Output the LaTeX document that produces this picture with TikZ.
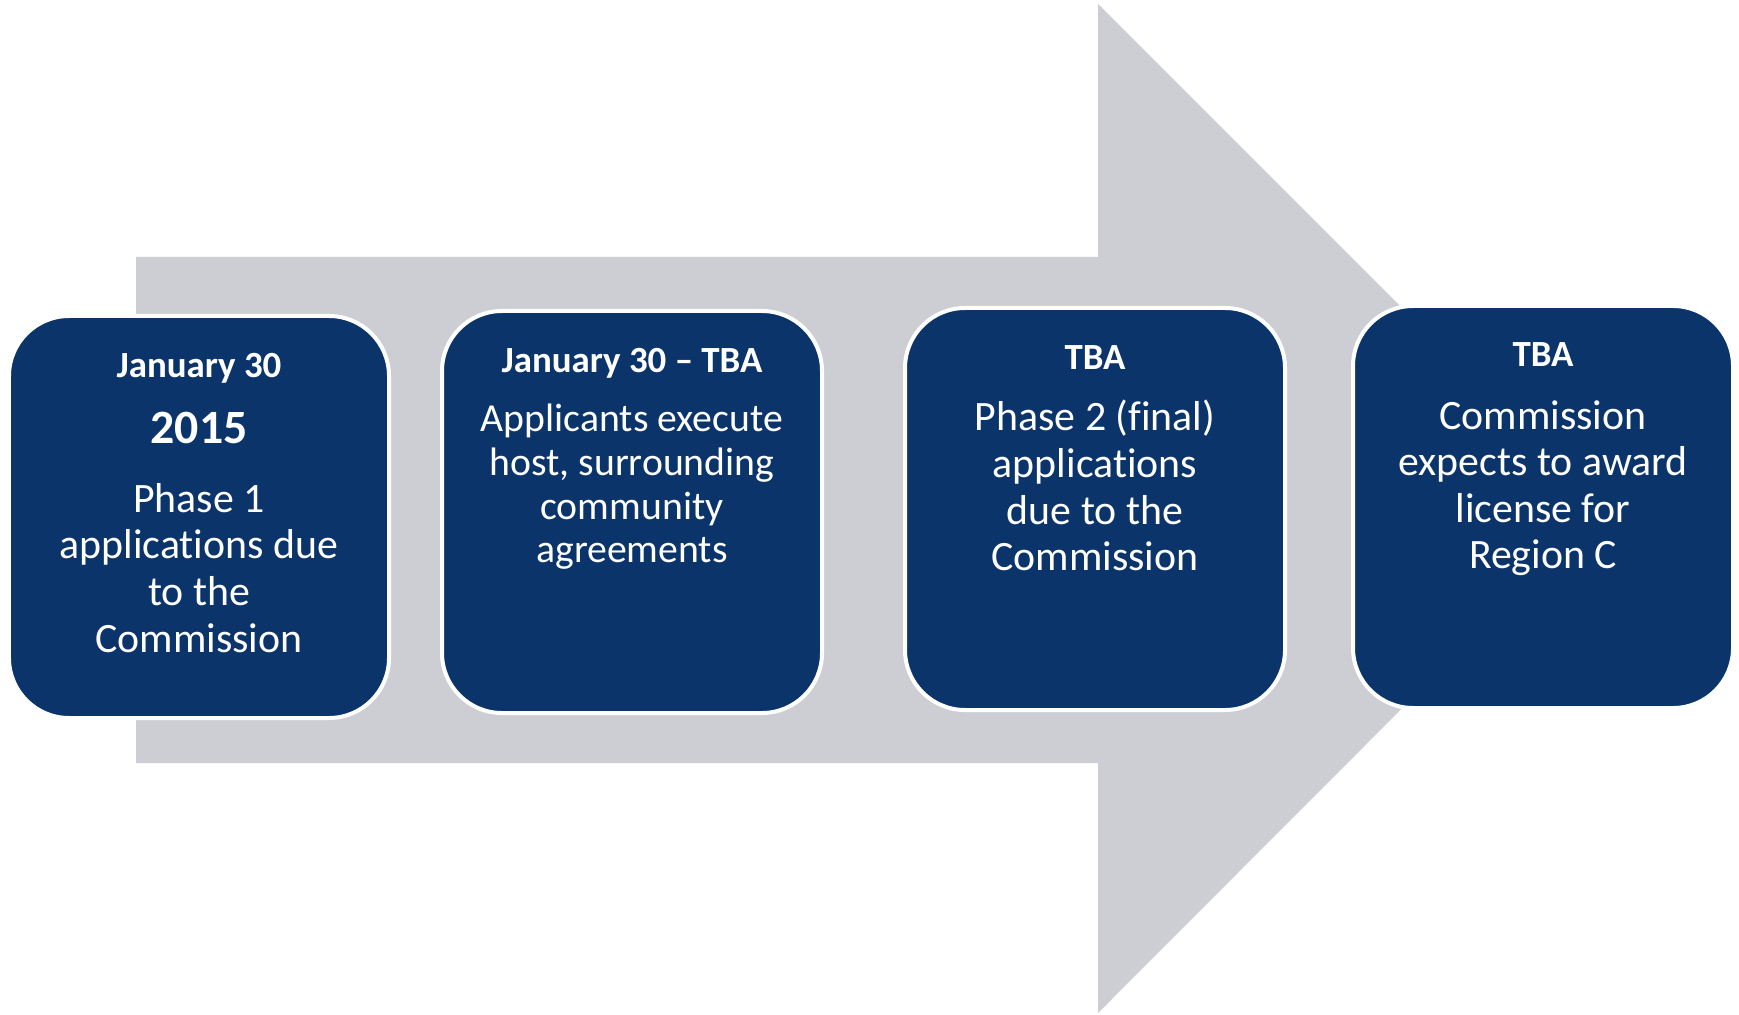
\documentclass[tikz,border=0pt]{standalone}
\usepackage{fontspec}
\setmainfont{Carlito}[Ligatures=NoCommon]
\definecolor{timelinenavy}{RGB}{11,53,106}
\definecolor{timelinegrey}{RGB}{205,206,211}

\begin{document}
\begin{tikzpicture}[x=0.2mm,y=-0.2mm,
  milestone/.style={draw=white,line width=0.8mm,fill=timelinenavy,rounded corners=12mm,
    minimum width=76mm,minimum height=80.4mm,inner sep=0pt},
  datelabel/.style={anchor=base,text=white,inner sep=0pt,font=\bfseries\fontsize{21}{25}\selectfont},
  steplabel/.style={anchor=north,text=white,align=center,inner sep=0pt,font=\fontsize{23.8}{26.5}\selectfont}]
  \useasboundingbox (0,0) rectangle (1739,1015);
  % big grey arrow behind the boxes
  \fill[timelinegrey] (136,257) -- (1098,257) -- (1098,4) -- (1602,508)
    -- (1098,1013) -- (1098,763) -- (136,763) -- cycle;
  \node[milestone] (m1) at (199,517) {};
  \node[milestone] (m2) at (632,512) {};
  \node[milestone] (m3) at (1095,509) {};
  \node[milestone] (m4) at (1543,507) {};
  \node[datelabel] (d1) at (199,377) {January 30};
  \node[datelabel,font=\bfseries\fontsize{27.2}{30}\selectfont] (y1) at (199,443) {2015};
  \node[steplabel] (s1) at (199,483) {Phase 1\\applications due\\to the\\Commission};
  \node[datelabel] (d2) at (632,373) {January 30 -- TBA};
  \node[steplabel,font=\fontsize{22.6}{24.8}\selectfont] (s2) at (632,404)
    {Applicants execute\\host, surrounding\\community\\agreements};
  \node[datelabel] (d3) at (1095,370) {TBA};
  \node[steplabel] (s3) at (1095,400) {Phase 2 (final)\\applications\\due to the\\Commission};
  \node[datelabel] (d4) at (1543,367) {TBA};
  \node[steplabel] (s4) at (1543,400) {Commission\\expects to award\\license for\\Region C};
\end{tikzpicture}
\end{document}
